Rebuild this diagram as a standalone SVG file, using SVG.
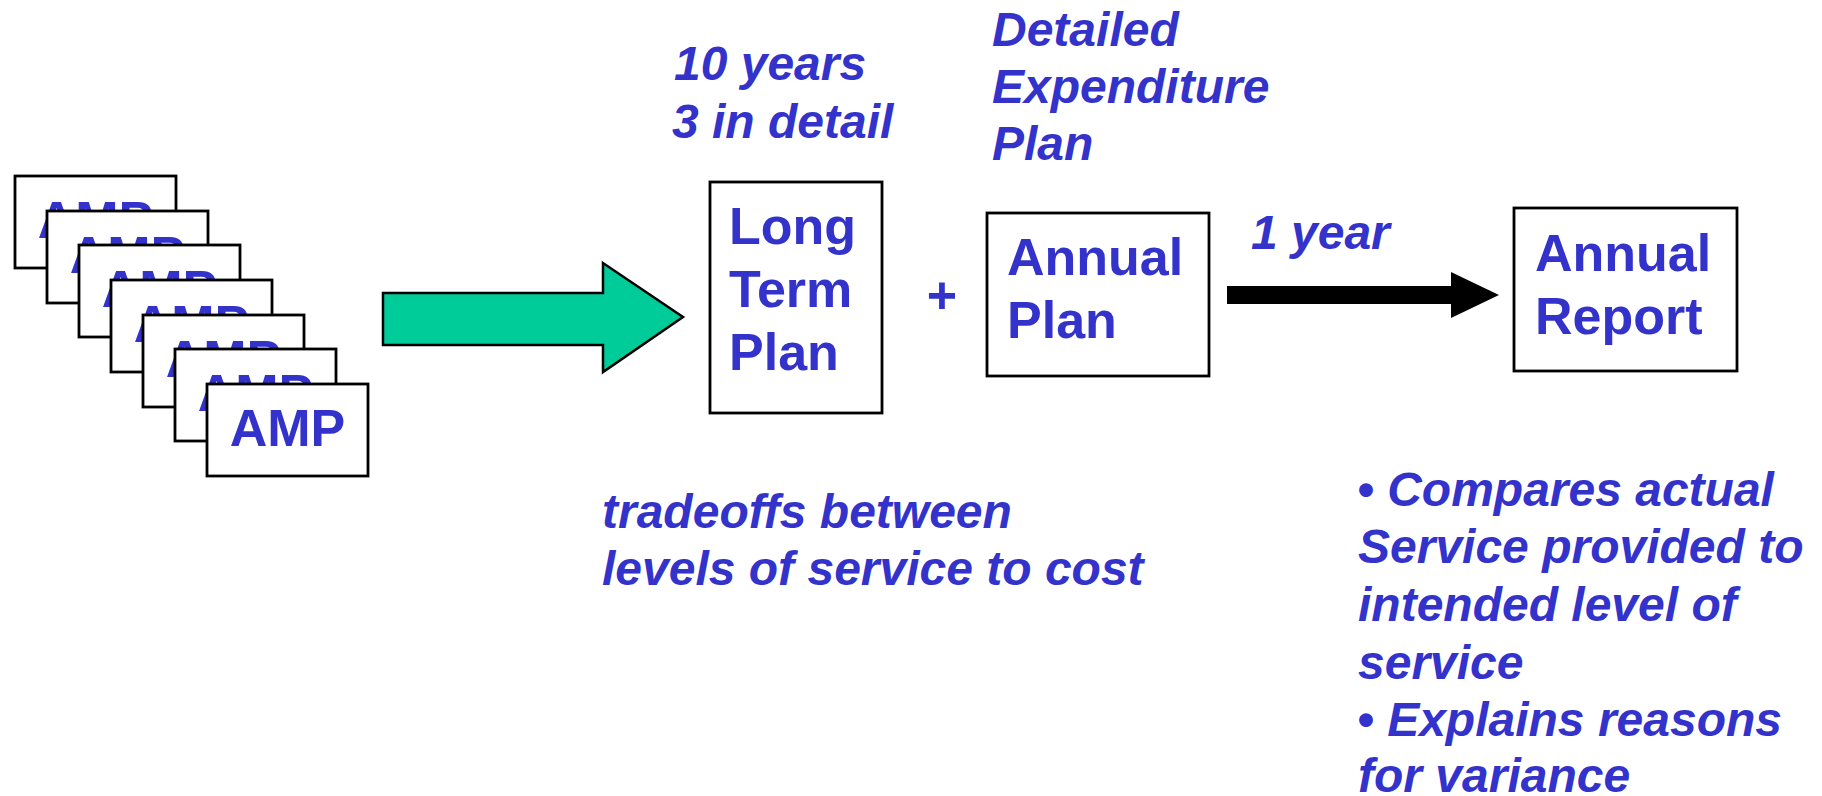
<svg xmlns="http://www.w3.org/2000/svg" width="1822" height="796" viewBox="0 0 1822 796">
<style>
.box{fill:#fff;stroke:#000;stroke-width:2.8}
.t{font-family:"Liberation Sans",Arial,sans-serif;font-weight:bold;fill:#3333CC;font-size:52px}
.l{font-family:"Liberation Sans",Arial,sans-serif;font-weight:bold;font-style:italic;fill:#3333CC;font-size:48px}
.amp{text-anchor:middle}
</style>
<rect width="1822" height="796" fill="#fff"/>
<g id="amp1"><rect class="box" x="15" y="176" width="161" height="92"/><text class="t amp" x="95.5" y="238">AMP</text></g>
<g id="amp2"><rect class="box" x="47" y="211" width="161" height="92"/><text class="t amp" x="127.5" y="273">AMP</text></g>
<g id="amp3"><rect class="box" x="79" y="245" width="161" height="92"/><text class="t amp" x="159.5" y="307">AMP</text></g>
<g id="amp4"><rect class="box" x="111" y="280" width="161" height="92"/><text class="t amp" x="191.5" y="342">AMP</text></g>
<g id="amp5"><rect class="box" x="143" y="315" width="161" height="92"/><text class="t amp" x="223.5" y="377">AMP</text></g>
<g id="amp6"><rect class="box" x="175" y="349" width="161" height="92"/><text class="t amp" x="255.5" y="411">AMP</text></g>
<g id="amp7"><rect class="box" x="207" y="384" width="161" height="92"/><text class="t amp" x="287.5" y="446">AMP</text></g>
<g id="connectors">
<polygon points="383,293 603,293 603,263 683,317 603,372 603,345 383,345" fill="#00CC99" stroke="#000" stroke-width="2.5"/>
<polygon points="1227,286 1451,286 1451,272 1499,295 1451,318 1451,304 1227,304" fill="#000"/>
</g>
<g id="longterm"><rect class="box" x="710" y="182" width="172" height="231"/>
<text class="t" x="729" y="244">Long</text><text class="t" x="729" y="307">Term</text><text class="t" x="729" y="370">Plan</text></g>
<g id="plus"><text class="t" x="942" y="313" text-anchor="middle">+</text></g>
<g id="annualplan"><rect class="box" x="987" y="213" width="222" height="163"/>
<text class="t" x="1007" y="275">Annual</text><text class="t" x="1007" y="338">Plan</text></g>
<g id="annualreport"><rect class="box" x="1514" y="208" width="223" height="163"/>
<text class="t" x="1535" y="271">Annual</text><text class="t" x="1535" y="334">Report</text></g>
<g id="labels">
<text class="l" x="674" y="80">10 years</text>
<text class="l" x="672" y="138">3 in detail</text>
<text class="l" x="992" y="46">Detailed</text>
<text class="l" x="992" y="103">Expenditure</text>
<text class="l" x="992" y="160">Plan</text>
<text class="l" x="1251" y="249">1 year</text>
<text class="l" x="602" y="528">tradeoffs between</text>
<text class="l" x="602" y="585">levels of service to cost</text>
<text class="l" x="1357" y="506">• Compares actual</text>
<text class="l" x="1358" y="563">Service provided to</text>
<text class="l" x="1358" y="621">intended level of</text>
<text class="l" x="1358" y="679">service</text>
<text class="l" x="1357" y="736">• Explains reasons</text>
<text class="l" x="1358" y="792">for variance</text>
</g>
</svg>
